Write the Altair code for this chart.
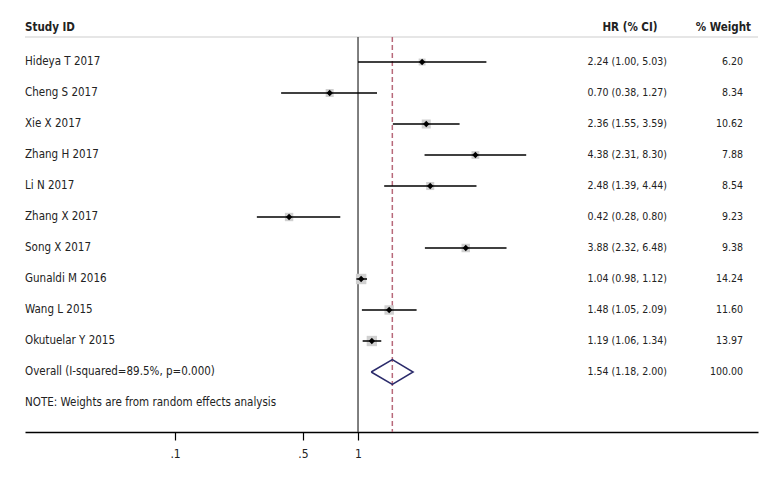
import altair as alt
import pandas as pd

studies = ["Hideya T 2017", "Cheng S 2017", "Xie X 2017", "Zhang H 2017", "Li N 2017",
           "Zhang X 2017", "Song X 2017", "Gunaldi M 2016", "Wang L 2015", "Okutuelar Y 2015"]
hr = [2.24, 0.70, 2.36, 4.38, 2.48, 0.42, 3.88, 1.04, 1.48, 1.19]
lo = [1.00, 0.38, 1.55, 2.31, 1.39, 0.28, 2.32, 0.98, 1.05, 1.06]
hi = [5.03, 1.27, 3.59, 8.30, 4.44, 0.80, 6.48, 1.12, 2.09, 1.34]
weight = [6.20, 8.34, 10.62, 7.88, 8.54, 9.23, 9.38, 14.24, 11.60, 13.97]

overall_label = "Overall (I-squared=89.5%, p=0.000)"
overall_hr, overall_lo, overall_hi, overall_w = 1.54, 1.18, 2.00, 100.00
note = "NOTE: Weights are from random effects analysis"

headers = ["Study ID", "HR (% CI)", "% Weight"]
tick_values = [0.1, 0.5, 1]
tick_labels = [".1", ".5", "1"]
x_domain = [0.01514, 153.4]

FONT = "DejaVu Sans Condensed, sans-serif"
TXT = "#222222"
NAME_FS = 11.5
NUM_FS = 10.5

n = len(studies)
df = pd.DataFrame({
    "row": list(range(n)),
    "study": studies, "hr": hr, "lo": lo, "hi": hi, "weight": weight,
})
df["ci"] = [f"{h:.2f} ({l:.2f}, {u:.2f})" for h, l, u in zip(hr, lo, hi)]
df["w"] = [f"{w:.2f}" for w in weight]

ov_row = n
note_row = n + 1

xs = alt.Scale(type="log", domain=x_domain, range=[0, 733], nice=False, zero=False)
ys = alt.Scale(domain=[0, 11], range=[54, 395])

labelExpr = " : ".join(
    [f"datum.value == {v} ? '{t}'" for v, t in zip(tick_values, tick_labels)] + ["''"]
)

base = alt.Chart(df)

header_rule = alt.Chart(pd.DataFrame({"a": [0]})).mark_rule(
    color="#e6e6e6", strokeWidth=2
).encode(x=alt.value(0), x2=alt.value(733), y=alt.value(29))

null_line = alt.Chart(pd.DataFrame({"v": [1.0]})).mark_rule(
    color="#555555", strokeWidth=1.5
).encode(
    x=alt.X("v:Q", scale=xs, title=None,
            axis=alt.Axis(values=tick_values, labelExpr=labelExpr, grid=False,
                          domainColor="black", domainWidth=1.5, tickColor="black",
                          tickWidth=1.2, tickSize=8, labelFontSize=12, labelPadding=8,
                          labelFont=FONT, labelColor=TXT)),
    y=alt.value(29), y2=alt.value(424),
)

ov_line = alt.Chart(pd.DataFrame({"v": [overall_hr]})).mark_rule(
    color="#b8697a", strokeWidth=1.5, strokeDash=[5, 3]
).encode(x=alt.X("v:Q", scale=xs), y=alt.value(29), y2=alt.value(424))

boxes = base.mark_square(color="#d0d0d0", opacity=1).encode(
    x=alt.X("hr:Q", scale=xs),
    y=alt.Y("row:Q", scale=ys, axis=None),
    size=alt.Size("weight:Q", scale=alt.Scale(domain=[0, 15], range=[0, 115]), legend=None),
)

ci = base.mark_rule(color="black", strokeWidth=1.5).encode(
    x=alt.X("lo:Q", scale=xs), x2="hi:Q",
    y=alt.Y("row:Q", scale=ys),
)

pts = base.mark_point(shape="diamond", filled=True, color="black", size=40, opacity=1).encode(
    x=alt.X("hr:Q", scale=xs), y=alt.Y("row:Q", scale=ys),
)

h = 0.4
dia = pd.DataFrame({
    "x": [overall_lo, overall_hr, overall_hi, overall_hr, overall_lo],
    "y": [ov_row, ov_row - h, ov_row, ov_row + h, ov_row],
    "o": [0, 1, 2, 3, 4],
})
diamond = alt.Chart(dia).mark_line(color="#2b2b6b", strokeWidth=1.5).encode(
    x=alt.X("x:Q", scale=xs), y=alt.Y("y:Q", scale=ys), order="o:Q",
)

name_kw = dict(font=FONT, fontSize=NAME_FS, color=TXT, baseline="middle")
num_kw = dict(font=FONT, fontSize=NUM_FS, color=TXT, baseline="middle")

study_txt = base.mark_text(align="left", **name_kw).encode(
    x=alt.value(0), y=alt.Y("row:Q", scale=ys), text="study:N")
ci_txt = base.mark_text(align="right", **num_kw).encode(
    x=alt.value(642), y=alt.Y("row:Q", scale=ys), text="ci:N")
w_txt = base.mark_text(align="right", **num_kw).encode(
    x=alt.value(718), y=alt.Y("row:Q", scale=ys), text="w:N")

extra = pd.DataFrame({
    "row": [ov_row, ov_row, ov_row, note_row],
    "text": [overall_label,
             f"{overall_hr:.2f} ({overall_lo:.2f}, {overall_hi:.2f})",
             f"{overall_w:.2f}", note],
    "col": ["name", "ci", "w", "name"],
})
ex_left = alt.Chart(extra).transform_filter("datum.col == 'name'").mark_text(
    align="left", **name_kw).encode(x=alt.value(0), y=alt.Y("row:Q", scale=ys), text="text:N")
ex_ci = alt.Chart(extra).transform_filter("datum.col == 'ci'").mark_text(
    align="right", **num_kw).encode(x=alt.value(642), y=alt.Y("row:Q", scale=ys), text="text:N")
ex_w = alt.Chart(extra).transform_filter("datum.col == 'w'").mark_text(
    align="right", **num_kw).encode(x=alt.value(718), y=alt.Y("row:Q", scale=ys), text="text:N")

hdr = pd.DataFrame({"text": headers, "row": [-1.1] * 3})
hdr_kw = dict(font=FONT, fontSize=11.5, fontWeight="bold", color=TXT, baseline="middle")
h1 = alt.Chart(hdr).transform_filter(f"datum.text == '{headers[0]}'").mark_text(
    align="left", **hdr_kw).encode(x=alt.value(0), y=alt.Y("row:Q", scale=ys), text="text:N")
h2 = alt.Chart(hdr).transform_filter(f"datum.text == '{headers[1]}'").mark_text(
    align="center", **hdr_kw).encode(x=alt.value(605), y=alt.Y("row:Q", scale=ys), text="text:N")
h3 = alt.Chart(hdr).transform_filter(f"datum.text == '{headers[2]}'").mark_text(
    align="right", **hdr_kw).encode(x=alt.value(726), y=alt.Y("row:Q", scale=ys), text="text:N")

chart = alt.layer(
    header_rule, null_line, ov_line, boxes, ci, pts, diamond,
    study_txt, ci_txt, w_txt, ex_left, ex_ci, ex_w, h1, h2, h3,
).properties(
    width=733, height=424,
    autosize=alt.AutoSizeParams(type="none"),
    padding={"left": 17, "top": 0, "right": 14, "bottom": 40},
    background="white",
).configure_view(strokeWidth=0)

chart.save("out.html", embed_options={"renderer": "svg", "actions": False})
